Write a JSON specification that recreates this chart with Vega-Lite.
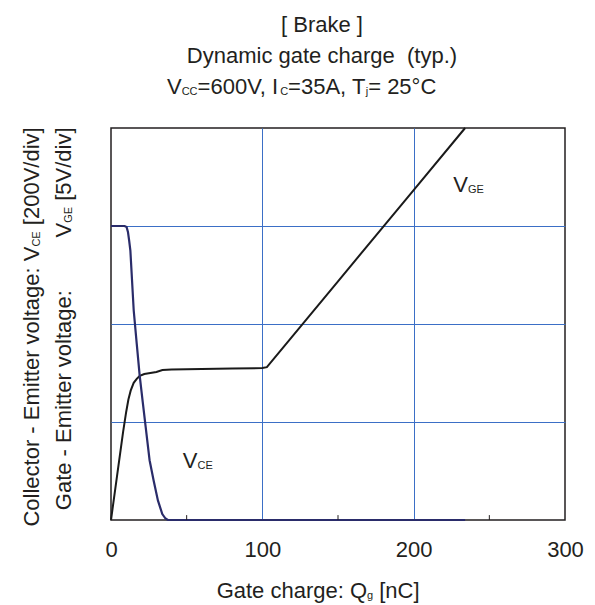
{
  "$schema": "https://vega.github.io/schema/vega-lite/v6.json",
  "autosize": {"type": "none"},
  "padding": {"left": 111, "top": 128, "right": 30, "bottom": 85},
  "width": 454,
  "height": 392,
  "background": "white",
  "config": {
    "view": {"stroke": "#231f20", "strokeWidth": 1.5},
    "text": {"font": "Liberation Sans", "color": "#231f20", "fontSize": 22, "baseline": "alphabetic"}
  },
  "datasets": {
    "curves": [
      {"series": "VCE", "q": 0, "v": 3},
      {"series": "VCE", "q": 9, "v": 3},
      {"series": "VCE", "q": 10.3, "v": 2.99},
      {"series": "VCE", "q": 11.2, "v": 2.94},
      {"series": "VCE", "q": 12, "v": 2.85},
      {"series": "VCE", "q": 12.8, "v": 2.75},
      {"series": "VCE", "q": 15, "v": 2.14},
      {"series": "VCE", "q": 17, "v": 1.8},
      {"series": "VCE", "q": 18.9, "v": 1.48},
      {"series": "VCE", "q": 21, "v": 1.2},
      {"series": "VCE", "q": 22.9, "v": 0.95},
      {"series": "VCE", "q": 25.5, "v": 0.61},
      {"series": "VCE", "q": 28.2, "v": 0.4},
      {"series": "VCE", "q": 31, "v": 0.2},
      {"series": "VCE", "q": 33.9, "v": 0.06},
      {"series": "VCE", "q": 36, "v": 0.015},
      {"series": "VCE", "q": 37.6, "v": 0},
      {"series": "VCE", "q": 234, "v": 0},
      {"series": "VGE", "q": 0, "v": 0},
      {"series": "VGE", "q": 4, "v": 0.45},
      {"series": "VGE", "q": 8, "v": 0.9},
      {"series": "VGE", "q": 10, "v": 1.1},
      {"series": "VGE", "q": 11.5, "v": 1.23},
      {"series": "VGE", "q": 13, "v": 1.32},
      {"series": "VGE", "q": 15, "v": 1.4},
      {"series": "VGE", "q": 17, "v": 1.44},
      {"series": "VGE", "q": 19, "v": 1.47},
      {"series": "VGE", "q": 22, "v": 1.49},
      {"series": "VGE", "q": 26, "v": 1.5},
      {"series": "VGE", "q": 30, "v": 1.51},
      {"series": "VGE", "q": 34, "v": 1.53},
      {"series": "VGE", "q": 40, "v": 1.535},
      {"series": "VGE", "q": 60, "v": 1.54},
      {"series": "VGE", "q": 80, "v": 1.545},
      {"series": "VGE", "q": 100, "v": 1.55},
      {"series": "VGE", "q": 103, "v": 1.56},
      {"series": "VGE", "q": 150, "v": 2.436},
      {"series": "VGE", "q": 200, "v": 3.367},
      {"series": "VGE", "q": 234, "v": 4}
    ]
  },
  "layer": [
    {
      "data": {"name": "curves"},
      "transform": [{"filter": "datum.series === 'VGE'"}],
      "mark": {"type": "line", "color": "#1a1a1a", "strokeWidth": 2},
      "encoding": {
        "x": {
          "field": "q", "type": "quantitative",
          "scale": {"domain": [0, 300], "nice": false},
          "axis": {
            "values": [0, 100, 200, 300],
            "title": null,
            "grid": true,
            "gridColor": "#3b6fc6",
            "gridWidth": 1,
            "gridOpacity": {"condition": {"test": "datum.value === 0 || datum.value === 300", "value": 0}, "value": 1},
            "domain": false,
            "ticks": false,
            "tickSize": 0,
            "labelPadding": 19,
            "labelFont": "Liberation Sans",
            "labelFontSize": 22,
            "labelColor": "#231f20",
            "labelFlush": false
          }
        },
        "y": {
          "field": "v", "type": "quantitative",
          "scale": {"domain": [0, 4], "nice": false, "zero": false},
          "axis": {
            "values": [1, 2, 3],
            "title": null,
            "grid": true,
            "gridColor": "#3b6fc6",
            "gridWidth": 1,
            "domain": false,
            "ticks": false,
            "labels": false
          }
        }
      }
    },
    {
      "data": {"name": "curves"},
      "transform": [{"filter": "datum.series === 'VCE'"}],
      "mark": {"type": "line", "color": "#2a2c6a", "strokeWidth": 2.2},
      "encoding": {
        "x": {"field": "q", "type": "quantitative"},
        "y": {"field": "v", "type": "quantitative"}
      }
    },
    {
      "data": {"values": [{"q": 50}, {"q": 150}, {"q": 250}]},
      "mark": {"type": "rule", "color": "#231f20", "strokeWidth": 1},
      "encoding": {
        "x": {"field": "q", "type": "quantitative"},
        "y": {"datum": 0},
        "y2": {"datum": 0.05}
      }
    },
    {
      "data": {"values": [{"t": "V"}]},
      "mark": {"type": "text", "align": "left"},
      "encoding": {"x": {"datum": 47.4}, "y": {"datum": 0.527}, "text": {"field": "t"}}
    },
    {
      "data": {"values": [{"t": "CE"}]},
      "mark": {"type": "text", "align": "left", "fontSize": 11, "dx": 14.7, "dy": 1},
      "encoding": {"x": {"datum": 47.4}, "y": {"datum": 0.527}, "text": {"field": "t"}}
    },
    {
      "data": {"values": [{"t": "V"}]},
      "mark": {"type": "text", "align": "left"},
      "encoding": {"x": {"datum": 226.2}, "y": {"datum": 3.349}, "text": {"field": "t"}}
    },
    {
      "data": {"values": [{"t": "GE"}]},
      "mark": {"type": "text", "align": "left", "fontSize": 11, "dx": 14.7, "dy": 1},
      "encoding": {"x": {"datum": 226.2}, "y": {"datum": 3.349}, "text": {"field": "t"}}
    },
    {
      "data": {"values": [{"t": "[ Brake ]"}]},
      "mark": {"type": "text", "align": "center"},
      "encoding": {"x": {"datum": 139.4}, "y": {"datum": 4.98}, "text": {"field": "t"}}
    },
    {
      "data": {"values": [{"t": "Dynamic gate charge\u00a0\u00a0(typ.)"}]},
      "mark": {"type": "text", "align": "center"},
      "encoding": {"x": {"datum": 139.4}, "y": {"datum": 4.663}, "text": {"field": "t"}}
    },
    {
      "data": {"values": [{"t": "V"}]},
      "mark": {"type": "text", "align": "right"},
      "encoding": {"x": {"datum": 46.7}, "y": {"datum": 4.347}, "text": {"field": "t"}}
    },
    {
      "data": {"values": [{"t": "CC"}]},
      "mark": {"type": "text", "align": "left", "fontSize": 11, "dy": 1},
      "encoding": {"x": {"datum": 46.7}, "y": {"datum": 4.347}, "text": {"field": "t"}}
    },
    {
      "data": {"values": [{"t": "=600V, I"}]},
      "mark": {"type": "text", "align": "left", "dx": 15.9},
      "encoding": {"x": {"datum": 46.7}, "y": {"datum": 4.347}, "text": {"field": "t"}}
    },
    {
      "data": {"values": [{"t": "C"}]},
      "mark": {"type": "text", "align": "left", "fontSize": 11, "dx": 98.5, "dy": 1},
      "encoding": {"x": {"datum": 46.7}, "y": {"datum": 4.347}, "text": {"field": "t"}}
    },
    {
      "data": {"values": [{"t": "=35A, T"}]},
      "mark": {"type": "text", "align": "left", "dx": 106.4},
      "encoding": {"x": {"datum": 46.7}, "y": {"datum": 4.347}, "text": {"field": "t"}}
    },
    {
      "data": {"values": [{"t": "j"}]},
      "mark": {"type": "text", "align": "left", "fontSize": 11, "dx": 184.1, "dy": 1},
      "encoding": {"x": {"datum": 46.7}, "y": {"datum": 4.347}, "text": {"field": "t"}}
    },
    {
      "data": {"values": [{"t": "= 25°C"}]},
      "mark": {"type": "text", "align": "left", "dx": 186.5},
      "encoding": {"x": {"datum": 46.7}, "y": {"datum": 4.347}, "text": {"field": "t"}}
    },
    {
      "data": {"values": [{"t": "Gate charge: Q"}]},
      "mark": {"type": "text", "align": "right"},
      "encoding": {"x": {"datum": 169.2}, "y": {"datum": -0.796}, "text": {"field": "t"}}
    },
    {
      "data": {"values": [{"t": "g"}]},
      "mark": {"type": "text", "align": "left", "fontSize": 11, "dy": 1},
      "encoding": {"x": {"datum": 169.2}, "y": {"datum": -0.796}, "text": {"field": "t"}}
    },
    {
      "data": {"values": [{"t": "[nC]"}]},
      "mark": {"type": "text", "align": "left", "dx": 12.2},
      "encoding": {"x": {"datum": 169.2}, "y": {"datum": -0.796}, "text": {"field": "t"}}
    },
    {
      "data": {"values": [{"t": "Collector - Emitter voltage: V"}]},
      "mark": {"type": "text", "angle": 270, "align": "right"},
      "encoding": {"x": {"datum": -47.6}, "y": {"datum": 2.79}, "text": {"field": "t"}}
    },
    {
      "data": {"values": [{"t": "CE"}]},
      "mark": {"type": "text", "angle": 270, "align": "left", "fontSize": 11, "dy": 1},
      "encoding": {"x": {"datum": -47.6}, "y": {"datum": 2.79}, "text": {"field": "t"}}
    },
    {
      "data": {"values": [{"t": "[200V/div]"}]},
      "mark": {"type": "text", "angle": 270, "align": "left", "dx": 21.4},
      "encoding": {"x": {"datum": -47.6}, "y": {"datum": 2.79}, "text": {"field": "t"}}
    },
    {
      "data": {"values": [{"t": "Gate - Emitter voltage:"}]},
      "mark": {"type": "text", "angle": 270, "align": "left"},
      "encoding": {"x": {"datum": -26.4}, "y": {"datum": 0.1}, "text": {"field": "t"}}
    },
    {
      "data": {"values": [{"t": "V"}]},
      "mark": {"type": "text", "angle": 270, "align": "right"},
      "encoding": {"x": {"datum": -26.4}, "y": {"datum": 3.033}, "text": {"field": "t"}}
    },
    {
      "data": {"values": [{"t": "GE"}]},
      "mark": {"type": "text", "angle": 270, "align": "left", "fontSize": 11, "dy": 1},
      "encoding": {"x": {"datum": -26.4}, "y": {"datum": 3.033}, "text": {"field": "t"}}
    },
    {
      "data": {"values": [{"t": "[5V/div]"}]},
      "mark": {"type": "text", "angle": 270, "align": "left", "dx": 22},
      "encoding": {"x": {"datum": -26.4}, "y": {"datum": 3.033}, "text": {"field": "t"}}
    }
  ]
}
